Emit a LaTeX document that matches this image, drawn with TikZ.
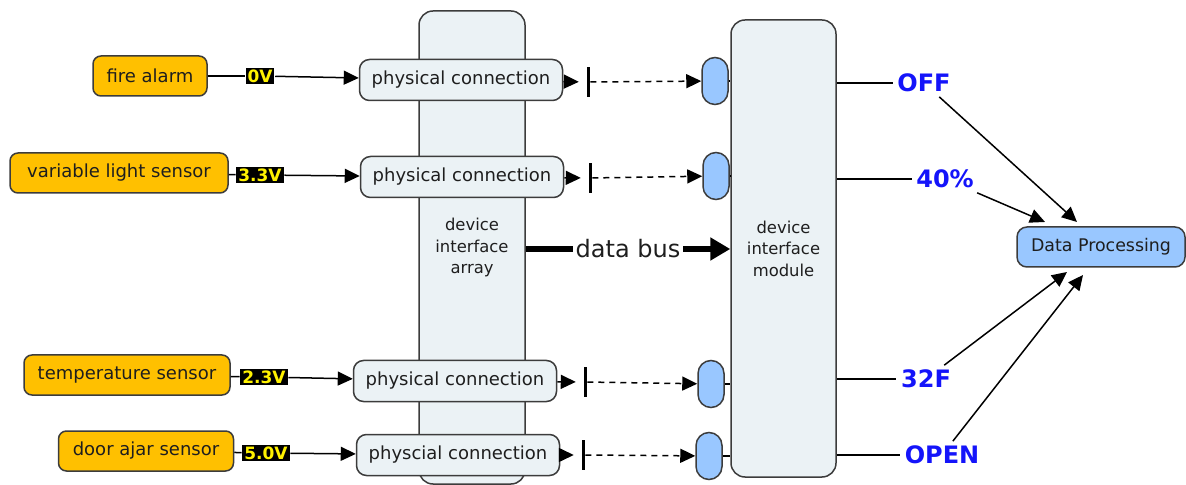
\documentclass[tikz,border=0pt]{standalone}
\usepackage{fontspec}
\setmainfont{DejaVu Sans}
\usetikzlibrary{arrows.meta}
\definecolor{boxgrey}{RGB}{235,242,245}
\definecolor{sensorgold}{RGB}{255,192,0}
\definecolor{pillblue}{RGB}{153,199,255}
\definecolor{valblue}{RGB}{20,20,250}
\definecolor{edgegrey}{RGB}{60,60,60}
\definecolor{txtgrey}{RGB}{30,30,30}
\begin{document}
\begin{tikzpicture}[x=0.5pt, y=-0.5pt, line width=0.75pt,
    tip/.style={-{Triangle[length=7.5pt,width=7pt]}},
    sensor/.style={draw=edgegrey, fill=sensorgold, rounded corners=4pt, minimum height=20pt, text=txtgrey, font=\fontsize{9}{11}\selectfont},
    volt/.style={fill=black, text=yellow, inner sep=1pt, font=\fontsize{8.5}{10}\selectfont\bfseries},
    conn/.style={draw=edgegrey, fill=boxgrey, rounded corners=5pt, minimum width=101.5pt, minimum height=20.5pt, text=txtgrey, font=\fontsize{9}{11}\selectfont},
    column/.style={draw=edgegrey, fill=boxgrey, rounded corners=7pt, text=txtgrey, align=center, font=\fontsize{8.2}{10.75}\selectfont},
    bar/.style={fill=black, minimum width=1.5pt, minimum height=15pt, inner sep=0pt},
    pill/.style={draw=edgegrey, fill=pillblue, rounded corners=6.5pt, minimum width=13pt, minimum height=23.5pt, inner sep=0pt},
    value/.style={text=valblue, inner sep=2pt, font=\fontsize{12}{14}\selectfont\bfseries}]
    \useasboundingbox (0,0) rectangle (1186,485);

    % Interface columns
    \node[column, minimum width=53pt, minimum height=236.5pt] (array) at (472,247.5) {device\\interface\\array};
    \node[column, minimum width=52.5pt, minimum height=228.5pt] (module) at (783.5,248.5) {device\\interface\\module};

    % Sensors and their readings
    \node[sensor, minimum width=57pt] (fire) at (150,76) {fire alarm};
    \node[sensor, minimum width=109pt] (light) at (119,173) {variable light sensor};
    \node[sensor, minimum width=103pt] (temp) at (127,375) {temperature sensor};
    \node[sensor, minimum width=87.5pt] (door) at (146,451) {door ajar sensor};
    \node[volt] (v1) at (260,76) {0V};
    \node[volt] (v2) at (260,175) {3.3V};
    \node[volt] (v3) at (264,377) {2.3V};
    \node[volt] (v4) at (266,453) {5.0V};

    % Physical connections
    \node[conn] (pc1) at (461,80) {physical connection};
    \node[conn] (pc2) at (462,177) {physical connection};
    \node[conn] (pc3) at (455,381) {physical connection};
    \node[conn] (pc4) at (458,455) {physcial connection};
    \node[bar] (b1) at (588,82) {};
    \node[bar] (b2) at (590,178) {};
    \node[bar] (b3) at (585,382) {};
    \node[bar] (b4) at (583,455) {};
    \node[pill] (p1) at (715,81) {};
    \node[pill] (p2) at (716,176) {};
    \node[pill] (p3) at (711,384) {};
    \node[pill] (p4) at (709,456) {};

    \foreach \s/\i in {fire/1, light/2, temp/3, door/4} {
        \draw (\s) -- (v\i);
        \draw[tip] (v\i) -- (pc\i);
        \draw[tip, shorten >=3.5pt] (pc\i) -- (b\i);
        \draw[tip, dash pattern=on 3pt off 2.5pt] (b\i) -- (p\i);
        \draw (p\i.east) -- (p\i.east -| module.west);
    }

    % Data bus
    \node[inner sep=1pt, text=txtgrey, font=\fontsize{12}{14}\selectfont] (bus) at (628,249) {data bus};
    \draw[line width=3pt] (array.east |- bus) -- (bus);
    \draw[line width=3pt, -{Triangle[length=10pt,width=11pt]}] (bus) -- (bus -| module.west);

    % Decoded values
    \node[value] (off) at (924,83) {OFF};
    \node[value] (pct) at (945,179) {40\%};
    \node[value] (deg) at (926,379) {32F};
    \node[value] (open) at (942,455) {OPEN};
    \node[draw=edgegrey, fill=pillblue, rounded corners=5pt, minimum width=84pt, minimum height=20pt, text=txtgrey, font=\fontsize{8.7}{10}\selectfont] (dp) at (1101,247) {Data Processing};
    \coordinate (in1) at (1077,222);
    \coordinate (in2) at (1045,222);
    \coordinate (in3) at (1067,272);
    \coordinate (in4) at (1083,275);

    \foreach \v/\i in {off/1, pct/2, deg/3, open/4} {
        \draw (\v -| module.east) -- (\v);
        \draw[tip] (\v) -- (in\i);
    }
\end{tikzpicture}
\end{document}
